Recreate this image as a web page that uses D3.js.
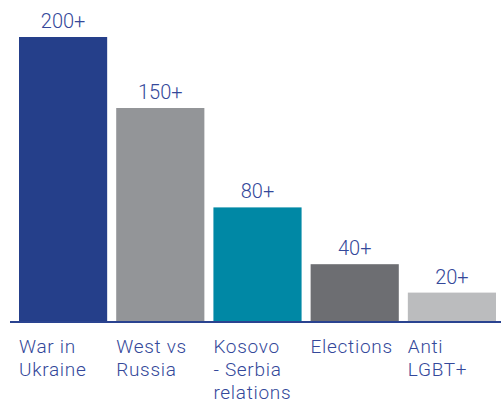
<!DOCTYPE html>
<html>
<head>
<meta charset="utf-8">
<script src="https://cdn.jsdelivr.net/npm/d3@7"></script>
<style>
  body { margin: 0; background: #fff; }
  text { font-family: Roboto, "Noto Sans", sans-serif; font-weight: 300; }
</style>
</head>
<body>
<div id="viz"></div>
<script>
var categories = ["War in Ukraine", "West vs Russia", "Kosovo - Serbia relations", "Elections", "Anti LGBT+"];
var labelLines = [["War in", "Ukraine"], ["West vs", "Russia"], ["Kosovo", "- Serbia", "relations"], ["Elections"], ["Anti", "LGBT+"]];
var values = [200, 150, 80, 40, 20];
var valueLabels = ["200+", "150+", "80+", "40+", "20+"];
var colors = ["#253f8a", "#939598", "#0088a5", "#6d6e72", "#bbbcbe"];

var width = 501, height = 403;
var baseY = 321;
var textColor = "#34489a";

var svg = d3.select("#viz")
            .append("svg")
            .attr("width", width)
            .attr("height", height);

var x = d3.scaleBand()
    .domain(categories)
    .range([19, 496])
    .paddingInner(0.093)
    .paddingOuter(0);

var y = d3.scaleLinear()
    .domain([0, 200])
    .range([baseY, 37]);

// bars
svg.selectAll("rect.bar")
  .data(values)
  .enter().append("rect")
  .attr("class", "bar")
  .attr("x", function(d, i) { return x(categories[i]); })
  .attr("y", function(d) { return y(d); })
  .attr("width", x.bandwidth())
  .attr("height", function(d) { return baseY - y(d); })
  .style("fill", function(d, i) { return colors[i]; });

// value labels
svg.selectAll("text.val")
  .data(values)
  .enter().append("text")
  .attr("class", "val")
  .attr("x", function(d, i) { return x(categories[i]) + x.bandwidth() / 2; })
  .attr("y", function(d) { return y(d) - 9; })
  .attr("text-anchor", "middle")
  .style("font-size", "20px")
  .style("fill", textColor)
  .text(function(d, i) { return valueLabels[i]; });

// baseline
svg.append("line")
  .attr("x1", 10)
  .attr("x2", width)
  .attr("y1", baseY + 1)
  .attr("y2", baseY + 1)
  .style("stroke", "#2a4390")
  .style("stroke-width", 2);

// category labels
var cat = svg.selectAll("text.cat")
  .data(categories)
  .enter().append("text")
  .attr("class", "cat")
  .attr("x", function(d) { return x(d); })
  .attr("y", 353)
  .style("font-size", "19px")
  .style("letter-spacing", "0.7px")
  .style("fill", textColor);

cat.selectAll("tspan")
  .data(function(d, i) { return labelLines[i]; })
  .enter().append("tspan")
  .attr("x", function() { return x(d3.select(this.parentNode).datum()); })
  .attr("dy", function(d, i) { return i === 0 ? 0 : 23; })
  .text(function(d) { return d; });
</script>
</body>
</html>
